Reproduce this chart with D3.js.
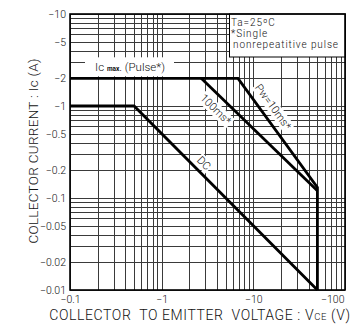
<!DOCTYPE html>
<html>
<head>
<meta charset="utf-8">
<script src="https://cdn.jsdelivr.net/npm/d3@7"></script>
<style>
  body { margin: 0; background: #fff; }
  text { font-family: Roboto, "Liberation Sans", Arial, sans-serif; font-weight: 300; fill: #111; }
</style>
</head>
<body>
<svg id="chart"></svg>
<script>
const w = 357, h = 336;
const margin = {top: 14, right: 12, bottom: 46, left: 70};

// axis ticks (labelled)
const xTicks = [-0.1, -1, -10, -100];
const xTickLabels = ["\u22120.1", "\u22121", "\u221210", "\u2212100"];
const yTicks = [-10, -5, -2, -1, -0.5, -0.2, -0.1, -0.05, -0.02, -0.01];
const yTickLabels = ["\u221210", "\u22125", "\u22122", "\u22121", "\u22120.5", "\u22120.2", "\u22120.1", "\u22120.05", "\u22120.02", "\u22120.01"];

// SOA curves (Vce, Ic)
const dcV = [-0.1, -0.5, -50];
const dcI = [-1, -1, -0.01];
const pw100V = [-2.7, -50];
const pw100I = [-2, -0.12];
const pw10V = [-0.1, -6.8, -50, -50];
const pw10I = [-2, -2, -0.13, -0.01];

var svg = d3.select('#chart')
  .attr('width', w)
  .attr('height', h);

var x = d3.scaleLog().domain([-0.1, -100]).range([margin.left, w - margin.right]);
var y = d3.scaleLog().domain([-0.01, -10]).range([h - margin.bottom, margin.top]);

// grid
var grid = svg.append('g').attr('shape-rendering', 'crispEdges');
grid.selectAll('line.gx')
  .data(x.ticks())
  .enter().append('line')
  .attr('class', 'gx')
  .attr('x1', d => Math.round(x(d)) + 0.5).attr('x2', d => Math.round(x(d)) + 0.5)
  .attr('y1', margin.top).attr('y2', h - margin.bottom)
  .style('stroke', '#3a3a3a').style('stroke-width', 1);
grid.selectAll('line.gy')
  .data(y.ticks())
  .enter().append('line')
  .attr('class', 'gy')
  .attr('y1', d => Math.round(y(d)) + 0.5).attr('y2', d => Math.round(y(d)) + 0.5)
  .attr('x1', margin.left).attr('x2', w - margin.right)
  .style('stroke', '#3a3a3a').style('stroke-width', 1);

// curves
var line = d3.line().x(d => x(d[0])).y(d => y(d[1]));
var curves = [d3.zip(dcV, dcI), d3.zip(pw100V, pw100I), d3.zip(pw10V, pw10I)];
svg.selectAll('path.soa')
  .data(curves)
  .enter().append('path')
  .attr('class', 'soa')
  .attr('d', line)
  .style('fill', 'none')
  .style('stroke', '#000')
  .style('stroke-width', 2.8)
  .style('stroke-linejoin', 'miter');

// rotated labels along lines, white behind
function slopeLabel(txt, vx, iy, p0, p1, fs) {
  var ang = Math.atan2(y(p1[1]) - y(p0[1]), x(p1[0]) - x(p0[0])) * 180 / Math.PI;
  var g = svg.append('g')
    .attr('transform', 'translate(' + x(vx) + ',' + y(iy) + ') rotate(' + ang + ')');
  var t = g.append('text')
    .attr('text-anchor', 'middle')
    .attr('dy', '0.35em')
    .style('font-size', fs + 'px')
    .text(txt);
  var bb = t.node().getBBox();
  g.insert('rect', 'text')
    .attr('x', bb.x - 1).attr('y', bb.y)
    .attr('width', bb.width + 2).attr('height', bb.height)
    .style('fill', '#fff');
}
slopeLabel('Pw=10ms*', -16.5, -0.98, [pw10V[1], pw10I[1]], [pw10V[2], pw10I[2]], 11);
slopeLabel('100ms*', -3.9, -0.92, [pw100V[0], pw100I[0]], [pw100V[1], pw100I[1]], 11);
slopeLabel('DC', -2.9, -0.24, [dcV[1], dcI[1]], [dcV[2], dcI[2]], 11);

// Ic max label
var yIcm = y(-2);
svg.append('rect')
  .attr('x', 85).attr('y', yIcm - 21)
  .attr('width', 89).attr('height', 19)
  .style('fill', '#fff');
var icm = svg.append('text')
  .attr('x', 130).attr('y', yIcm - 7)
  .attr('text-anchor', 'middle')
  .style('font-size', '11.5px');
icm.append('tspan').text('Ic ');
icm.append('tspan').style('font-size', '6.5px').style('font-weight', 'bold').text('max');
icm.append('tspan').text('. (Pulse*)');

// condition box
var bx = 229, bw = w - margin.right - bx;
svg.append('rect')
  .attr('x', bx + 0.5).attr('y', margin.top)
  .attr('width', bw).attr('height', 43)
  .style('fill', '#fff').style('stroke', '#000').style('stroke-width', 1);
var cond = ['Ta=25\u00baC', '*Single', 'nonrepeatitive pulse'];
svg.selectAll('text.cond')
  .data(cond)
  .enter().append('text')
  .attr('class', 'cond')
  .attr('x', (d, i) => i == 2 ? bx + 4 : bx + 2)
  .attr('y', (d, i) => 26.3 + i * 11)
  .style('font-size', '10px')
  .style('letter-spacing', '0.9px')
  .text(d => d);

// frame
svg.append('rect')
  .attr('x', margin.left).attr('y', margin.top)
  .attr('width', w - margin.right - margin.left)
  .attr('height', h - margin.bottom - margin.top)
  .style('fill', 'none').style('stroke', '#000').style('stroke-width', 1.6);

// axes
var axisFont = 'Roboto, "Liberation Sans", Arial, sans-serif';
var xAxis = d3.axisBottom(x).tickValues(xTicks).tickSize(0).tickPadding(6)
  .tickFormat((d, i) => xTickLabels[i]);
var gx = svg.append('g')
  .attr('transform', 'translate(0,' + (h - margin.bottom) + ')')
  .call(xAxis);
gx.select('.domain').remove();
gx.selectAll('text').style('font-size', '10.5px').style('font-family', axisFont).style('fill', '#111');
gx.selectAll('.tick').filter(d => d == -100).select('text').attr('text-anchor', 'end').attr('x', -1);

var yAxis = d3.axisLeft(y).tickValues(yTicks).tickSize(0).tickPadding(4)
  .tickFormat((d, i) => yTickLabels[i]);
var gy = svg.append('g')
  .attr('transform', 'translate(' + margin.left + ',0)')
  .call(yAxis);
gy.select('.domain').remove();
gy.selectAll('text').style('font-size', '10.5px').style('font-family', axisFont).style('fill', '#111');

// titles
var xt = svg.append('text')
  .attr('x', 200).attr('y', 320)
  .attr('text-anchor', 'middle')
  .style('font-size', '14px')
  .style('letter-spacing', '0.6px')
  .attr('xml:space', 'preserve');
xt.append('tspan').text('COLLECTOR  TO EMITTER  VOLTAGE : V');
xt.append('tspan').style('font-size', '9.5px').text('CE');
xt.append('tspan').text(' (V)');

svg.append('text')
  .attr('transform', 'translate(38,151) rotate(-90)')
  .attr('text-anchor', 'middle')
  .style('font-size', '13.5px')
  .style('letter-spacing', '0.3px')
  .text('COLLECTOR CURRENT : Ic (A)');
</script>
</body>
</html>
